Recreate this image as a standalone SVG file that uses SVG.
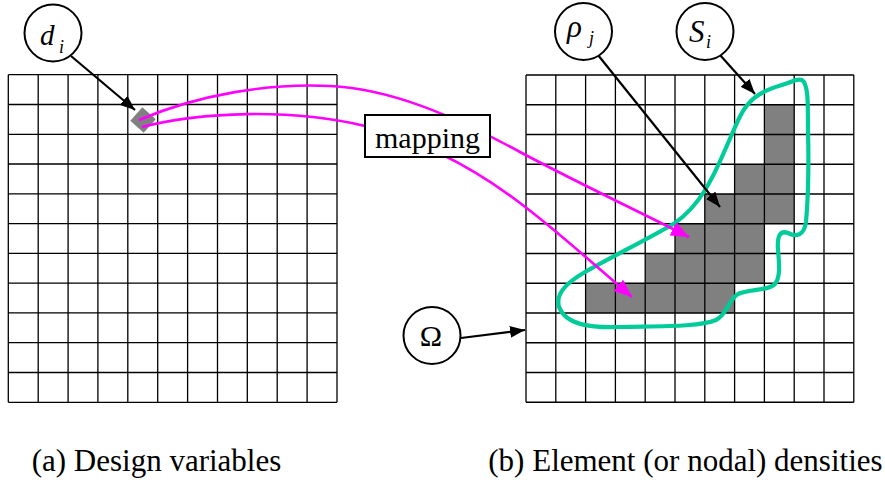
<svg xmlns="http://www.w3.org/2000/svg" width="885" height="483" viewBox="0 0 885 483">
<style>
.grid{fill:none;stroke:#000;stroke-width:1.3}
.cell{fill:#808080}
.lbl{fill:#fff;stroke:#000;stroke-width:2}
text{font-family:'Liberation Serif','Times New Roman',serif;fill:#000}
.it{font-style:italic}
.blk{fill:none;stroke:#000;stroke-width:2.2}
.mag{fill:none;stroke:#ff00ff;stroke-width:2.6}
.shape{fill:none;stroke:#00cc99;stroke-width:4.2;stroke-linejoin:round}
</style>
<defs>
<marker id="ab" markerUnits="userSpaceOnUse" markerWidth="16" markerHeight="12" refX="15" refY="6" orient="auto">
<path d="M0,0 L15,6 L0,12 Z" fill="#000"/>
</marker>
<marker id="am" markerUnits="userSpaceOnUse" markerWidth="19" markerHeight="15" refX="18" refY="7.5" orient="auto">
<path d="M0,0 L18,7.5 L0,15 Z" fill="#ff00ff"/>
</marker>
</defs>
<rect width="885" height="483" fill="#fff"/>

<g id="grid-left">
<path class="grid" d="M8.3,74.7V402.3M38.2,74.7V402.3M68.1,74.7V402.3M97.9,74.7V402.3M127.8,74.7V402.3M157.7,74.7V402.3M187.6,74.7V402.3M217.5,74.7V402.3M247.3,74.7V402.3M277.2,74.7V402.3M307.1,74.7V402.3M337,74.7V402.3M8.3,74.7H337M8.3,104.5H337M8.3,134.3H337M8.3,164H337M8.3,193.8H337M8.3,223.6H337M8.3,253.4H337M8.3,283.2H337M8.3,312.9H337M8.3,342.7H337M8.3,372.5H337M8.3,402.3H337"/>
</g>

<g id="grid-right">
<rect class="cell" x="764.4" y="104.75" width="29.8" height="59.5"/>
<rect class="cell" x="734.6" y="164.25" width="59.6" height="29.75"/>
<rect class="cell" x="704.8" y="194" width="89.4" height="29.75"/>
<rect class="cell" x="675" y="223.75" width="89.4" height="29.75"/>
<rect class="cell" x="645.2" y="253.5" width="119.2" height="29.75"/>
<rect class="cell" x="585.6" y="283.25" width="149" height="29.75"/>
<path class="grid" d="M526,75V402.3M555.8,75V402.3M585.6,75V402.3M615.4,75V402.3M645.2,75V402.3M675,75V402.3M704.8,75V402.3M734.6,75V402.3M764.4,75V402.3M794.2,75V402.3M824,75V402.3M853.8,75V402.3M526,75H853.8M526,104.75H853.8M526,134.5H853.8M526,164.25H853.8M526,194H853.8M526,223.75H853.8M526,253.5H853.8M526,283.25H853.8M526,313H853.8M526,342.75H853.8M526,372.5H853.8M526,402.25H853.8"/>
</g>

<g id="design-variable">
<rect x="134" y="111" width="18" height="18" fill="#808080" transform="rotate(42 143 120)"/>
</g>

<g id="region-S">
<path class="shape" d="M750,102 C757,94 768,89 782,85 C792,82 797,78 802,80 C808,84 808,100 808,130 C809,170 808,200 806,222 C804,236 796,237 788,233 C780,230 777,236 778,250 C779,262 781,276 775,284 C768,291 748,289 738,294 C728,300 727,315 716,320 C700,327 660,326 620,327 C590,328 566,325 559,307 C555,293 568,282 585,272 C615,255 650,238 675,223 C700,205 712,180 725,150 C735,128 740,112 750,102 Z"/>
</g>

<g id="connectors">
<path class="blk" d="M71,56 L135,110" marker-end="url(#ab)"/>
<path class="blk" d="M598,55 L720,207" marker-end="url(#ab)"/>
<path class="blk" d="M720,55 L755,94" marker-end="url(#ab)"/>
<path class="blk" d="M461,338 L525,330" marker-end="url(#ab)"/>
<path class="mag" d="M139,120 C200,94 270,83 330,86 C390,89 450,114 520,152 C580,184 640,212 689,237" marker-end="url(#am)"/>
<path class="mag" d="M142,127 C200,112 290,108 365,126 C420,140 470,165 520,203 C560,233 600,270 632,297" marker-end="url(#am)"/>
</g>

<g id="mapping">
<rect class="lbl" x="365" y="115" width="125" height="42"/>
<text x="427.5" y="147.5" font-family="Liberation Serif, serif" font-size="30" text-anchor="middle">mapping</text>
</g>

<g id="node-d">
<circle class="lbl" cx="53" cy="33" r="28.5"/>
<text class="it" x="40" y="45" font-family="Liberation Serif, serif" font-size="29">d</text>
<text class="it" x="59" y="53" font-family="Liberation Serif, serif" font-size="18">i</text>
</g>

<g id="node-rho">
<circle class="lbl" cx="583.5" cy="31.5" r="28.5"/>
<text class="it" x="567" y="37" font-family="Liberation Serif, serif" font-size="31">ρ</text>
<text class="it" x="589" y="44" font-family="Liberation Serif, serif" font-size="18">j</text>
</g>

<g id="node-S">
<circle class="lbl" cx="705" cy="31.5" r="28.5"/>
<text class="it" x="689" y="41.5" font-family="Liberation Serif, serif" font-size="31">S</text>
<text class="it" x="706" y="48" font-family="Liberation Serif, serif" font-size="18">i</text>
</g>

<g id="node-omega">
<circle class="lbl" cx="432" cy="335.5" r="28.5"/>
<text x="431" y="345.5" font-family="Liberation Serif, serif" font-size="30" text-anchor="middle">Ω</text>
</g>

<g id="captions">
<text x="31.7" y="471" font-family="Liberation Serif, serif" font-size="31">(a) Design variables</text>
<text x="488.3" y="471" font-family="Liberation Serif, serif" font-size="31">(b) Element (or nodal) densities</text>
</g>
</svg>
